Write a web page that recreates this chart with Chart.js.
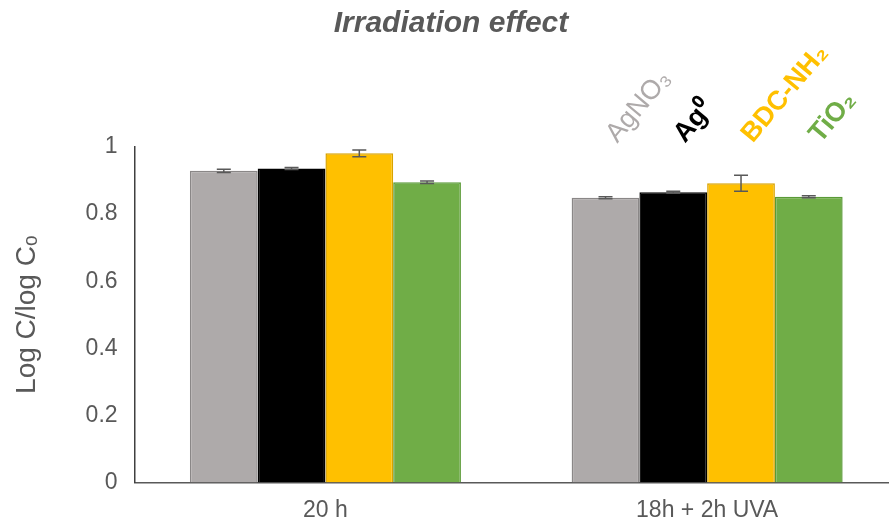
<!DOCTYPE html>
<html>
<head>
<meta charset="utf-8">
<script src="https://cdn.jsdelivr.net/npm/chart.js@4.4.1/dist/chart.umd.min.js"></script>
<style>
  html, body { margin: 0; padding: 0; background: #fff; overflow: hidden; }
  #wrap { width: 898px; height: 524px; }
</style>
</head>
<body>
<div id="wrap"><canvas id="chart"></canvas></div>
<script>
const categories = ['20 h', '18h + 2h UVA'];
const seriesNames = ['AgNO\u2083', 'Ag\u2070', 'BDC-NH\u2082', 'TiO\u2082'];
const agno3 = [0.929, 0.849];
const ag0 = [0.936, 0.865];
const bdc = [0.981, 0.892];
const tio2 = [0.895, 0.852];
const agno3Err = [0.005, 0.003];
const ag0Err = [0.003, 0.003];
const bdcErr = [0.010, 0.024];
const tio2Err = [0.004, 0.003];
const yTicks = [0, 0.2, 0.4, 0.6, 0.8, 1];

const fills = ['#AEAAAA', '#000000', '#FFC000', '#70AD47'];
const borders = ['#8a8787', '#000000', '#d9a300', '#5a9a36'];
const labelFonts = ['27px "Liberation Sans"', 'bold 27px "Liberation Sans"', 'bold 27px "Liberation Sans"', 'bold 27px "Liberation Sans"'];
const values = [agno3, ag0, bdc, tio2];
const errors = [agno3Err, ag0Err, bdcErr, tio2Err];

// error bars drawn from the bar elements + y scale
const errorBars = {
    id: 'errorBars',
    afterDatasetsDraw(chart) {
        const ctx = chart.ctx;
        const y = chart.scales.y;
        ctx.save();
        ctx.strokeStyle = '#595959';
        ctx.lineWidth = 1.5;
        chart.data.datasets.forEach((ds, di) => {
            const meta = chart.getDatasetMeta(di);
            meta.data.forEach((bar, i) => {
                const v = ds.data[i], e = errors[di][i];
                const top = y.getPixelForValue(v + e), bot = y.getPixelForValue(v - e);
                ctx.beginPath();
                ctx.moveTo(bar.x, top); ctx.lineTo(bar.x, bot);
                ctx.moveTo(bar.x - 7, top); ctx.lineTo(bar.x + 7, top);
                ctx.moveTo(bar.x - 7, bot); ctx.lineTo(bar.x + 7, bot);
                ctx.stroke();
            });
        });
        ctx.restore();
    }
};

// slanted series names above the second group
const slantLabels = {
    id: 'slantLabels',
    afterDraw(chart) {
        const ctx = chart.ctx;
        ctx.save();
        chart.data.datasets.forEach((ds, di) => {
            const bar = chart.getDatasetMeta(di).data[1];
            ctx.save();
            ctx.translate(bar.x + 6, chart.chartArea.top - 8);
            ctx.rotate(-50 * Math.PI / 180);
            ctx.font = labelFonts[di];
            ctx.fillStyle = fills[di];
            ctx.textAlign = 'left';
            ctx.textBaseline = 'middle';
            ctx.fillText(ds.label, 0, 0);
            ctx.restore();
        });
        ctx.restore();
    }
};

new Chart(document.getElementById('chart'), {
    type: 'bar',
    data: {
        labels: categories,
        datasets: seriesNames.map((name, i) => ({
            label: name,
            data: values[i],
            backgroundColor: fills[i],
            borderColor: borders[i],
            borderWidth: 1.5,
            borderSkipped: 'bottom',
            categoryPercentage: 0.71,
            barPercentage: 1.0
        }))
    },
    options: {
        responsive: true,
        maintainAspectRatio: false,
        animation: false,
        layout: { padding: { top: 0, left: 4, right: 0, bottom: -14 } },
        plugins: {
            legend: { display: false },
            tooltip: { enabled: false },
            title: {
                display: true,
                text: 'Irradiation effect',
                color: '#595959',
                font: { family: '"Liberation Sans"', size: 30, weight: 'bold', style: 'italic' },
                padding: { top: 6, bottom: 105 }
            }
        },
        scales: {
            x: {
                grid: { display: false, drawTicks: false },
                border: { display: true, color: '#595959', width: 1.5 },
                ticks: { color: '#595959', padding: 14, font: { family: '"Liberation Sans"', size: 23 } }
            },
            y: {
                min: 0,
                max: 1,
                afterBuildTicks: (axis) => { axis.ticks = yTicks.map(v => ({ value: v })); },
                grid: { display: false, drawTicks: false },
                border: { display: true, color: '#404040', width: 1.5 },
                ticks: {
                    color: '#595959',
                    padding: 17,
                    font: { family: '"Liberation Sans"', size: 23 },
                    callback: (v) => String(Math.round(v * 10) / 10)
                },
                title: {
                    display: true,
                    text: 'Log C/log C\u2092',
                    color: '#595959',
                    font: { family: '"Liberation Sans"', size: 28 },
                    padding: { top: 6, bottom: 25 }
                }
            }
        }
    },
    plugins: [errorBars, slantLabels]
});
</script>
</body>
</html>
